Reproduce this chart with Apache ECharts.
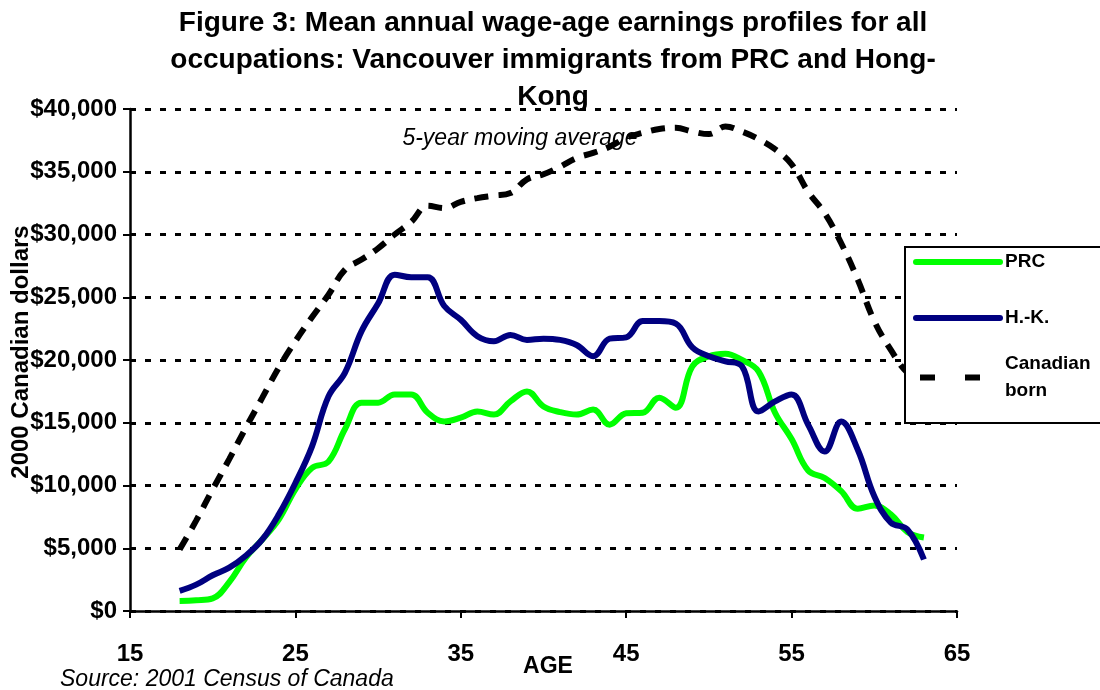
<!DOCTYPE html>
<html>
<head>
<meta charset="utf-8">
<title>Figure 3</title>
<script src="https://cdn.jsdelivr.net/npm/echarts@6/dist/echarts.min.js"></script>
<style>
  html, body { margin: 0; padding: 0; background: #fff; }
  #chart { width: 1100px; height: 690px; }
</style>
</head>
<body>
<div id="chart"></div>
<script>
var ages = [18, 19, 20, 21, 22, 23, 24, 25, 26, 27, 28, 29, 30, 31, 32, 33, 34, 35, 36, 37, 38, 39, 40,
  41, 42, 43, 44, 45, 46, 47, 48, 49, 50, 51, 52, 53, 54, 55, 56, 57, 58, 59, 60, 61, 62, 63];
var prc = [800, 850, 1000, 2300, 4250, 5700, 7300, 9700, 11400, 11900, 14500, 16600, 16600, 17250, 17250, 15800,
  15100, 15400, 15900, 15650, 16700, 17500, 16300, 15850, 15650, 16050, 14850, 15750, 15800, 17000, 16200,
  19500, 20300, 20500, 20000, 19100, 15800, 13700, 11200, 10600, 9550, 8150, 8400, 7700, 6300, 5850];
var hk = [1600, 2100, 2850, 3450, 4400, 5700, 7700, 10200, 13100, 17100, 19000, 22300, 24500, 26800, 26600, 26600,
  24300, 23200, 21900, 21500, 22000, 21600, 21700, 21600, 21200, 20300, 21700, 21800, 23100, 23100, 22900,
  21000, 20300, 19900, 19500, 15900, 16700, 17250, 14850, 12700, 15100, 12850, 9150, 7050, 6500, 4100];
var canadian = [4900, 7200, 9700, 12100, 14600, 17000, 19400, 21500, 23400, 25200, 27200, 28000, 28900, 30000, 31000, 32300,
  32100, 32600, 32900, 33100, 33300, 34400, 34800, 35400, 36100, 36500, 37000, 37700, 38100, 38400, 38500,
  38200, 38000, 38600, 38200, 37600, 36800, 35600, 33400, 31700, 29300, 26400, 23100, 20800, 19000, 18300];
var seriesNames = ['PRC', 'H.-K.', 'Canadian born'];
var yTicks = [0, 5000, 10000, 15000, 20000, 25000, 30000, 35000, 40000];

var FONT = '"Liberation Sans", Arial, sans-serif';

function pairs(values) {
  return ages.map(function (a, i) { return [a, values[i]]; });
}

var chart = echarts.init(document.getElementById('chart'));

var option = {
  animation: false,
  backgroundColor: '#fff',
  title: [
    {
      text: 'Figure 3: Mean annual wage-age earnings profiles for all\noccupations: Vancouver immigrants from PRC and Hong-\nKong',
      left: 548,
      top: 0,
      textAlign: 'center',
      textStyle: { fontFamily: FONT, fontWeight: 'bold', fontSize: 28, lineHeight: 37, color: '#000' }
    },
    {
      // subtitle sits under the dashed line
      text: '5-year moving average',
      left: 515,
      top: 121,
      textAlign: 'center',
      z: 1,
      textStyle: { fontFamily: FONT, fontStyle: 'italic', fontWeight: 'normal', fontSize: 23, lineHeight: 26, color: '#000' }
    },
    {
      text: 'Source: 2001 Census of Canada',
      left: 55,
      top: 663,
      textStyle: { fontFamily: FONT, fontStyle: 'italic', fontWeight: 'normal', fontSize: 23, lineHeight: 24, color: '#000' }
    }
  ],
  legend: [
    {
      data: [seriesNames[0], seriesNames[1]],
      orient: 'vertical',
      left: 905,
      top: 247,
      padding: [4, 80, 94, 8],
      itemWidth: 84,
      itemHeight: 14,
      itemGap: 34,
      backgroundColor: '#fff',
      borderColor: '#000',
      borderWidth: 2,
      borderRadius: 0,
      selectedMode: false,
      itemStyle: { opacity: 0 },
      lineStyle: { width: 6, cap: 'round' },
      textStyle: { fontFamily: FONT, fontWeight: 'bold', fontSize: 19, lineHeight: 22, color: '#000' }
    },
    {
      data: [{
        name: seriesNames[2],
        textStyle: { padding: [27, 0, 0, 0] }
      }],
      orient: 'vertical',
      left: 913,
      top: 337,
      z: 5,
      padding: 0,
      itemWidth: 84,
      itemHeight: 14,
      selectedMode: false,
      itemStyle: { opacity: 0 },
      formatter: function () { return 'Canadian\nborn'; },
      lineStyle: { width: 6, type: [15, 30], dashOffset: -4, cap: 'butt' },
      textStyle: { fontFamily: FONT, fontWeight: 'bold', fontSize: 19, lineHeight: 27, color: '#000' }
    }
  ],
  grid: {
    left: 130,
    right: 143,
    top: 109,
    bottom: 79,
    outerBoundsMode: 'none',
    containLabel: false
  },
  xAxis: {
    type: 'value',
    min: 15,
    max: 65,
    interval: 10,
    name: 'AGE',
    nameLocation: 'middle',
    nameGap: 44,
    nameMoveOverlap: false,
    nameTextStyle: { fontFamily: FONT, fontWeight: 'bold', fontSize: 23, color: '#000', padding: [0, 0, 0, 9] },
    axisLine: { show: true, lineStyle: { color: '#000', width: 2.5 } },
    axisTick: { show: true, inside: false, length: 7, lineStyle: { color: '#000', width: 2 } },
    axisLabel: { fontFamily: FONT, fontWeight: 'bold', fontSize: 24, color: '#000', margin: 31 },
    splitLine: { show: false }
  },
  yAxis: {
    type: 'value',
    min: yTicks[0],
    max: yTicks[yTicks.length - 1],
    interval: yTicks[1] - yTicks[0],
    name: '2000 Canadian dollars',
    nameLocation: 'middle',
    nameGap: 97,
    nameMoveOverlap: false,
    nameTextStyle: { fontFamily: FONT, fontWeight: 'bold', fontSize: 24, color: '#000', padding: [0, 0, 0, 16] },
    axisLine: { show: true, lineStyle: { color: '#000', width: 2.5 } },
    axisTick: { show: true, inside: false, length: 7, lineStyle: { color: '#000', width: 2 } },
    axisLabel: {
      fontFamily: FONT,
      fontWeight: 'bold',
      fontSize: 24,
      color: '#000',
      margin: 13,
      formatter: function (v) { return '$' + v.toLocaleString('en-US'); }
    },
    splitLine: { show: true, lineStyle: { color: '#000', width: 3, type: [6, 9] } }
  },
  series: [
    {
      name: seriesNames[0],
      type: 'line',
      data: pairs(prc),
      smooth: 0.4,
      symbol: 'none',
      itemStyle: { color: '#00ff00' },
      lineStyle: { color: '#00ff00', width: 6 }
    },
    {
      name: seriesNames[1],
      type: 'line',
      data: pairs(hk),
      smooth: 0.4,
      symbol: 'none',
      itemStyle: { color: '#000080' },
      lineStyle: { color: '#000080', width: 6 }
    },
    {
      name: seriesNames[2],
      type: 'line',
      data: pairs(canadian),
      smooth: 0.4,
      symbol: 'none',
      itemStyle: { color: '#000' },
      lineStyle: { color: '#000', width: 6, type: [14, 10] }
    }
  ]
};

chart.setOption(option);
</script>
</body>
</html>
